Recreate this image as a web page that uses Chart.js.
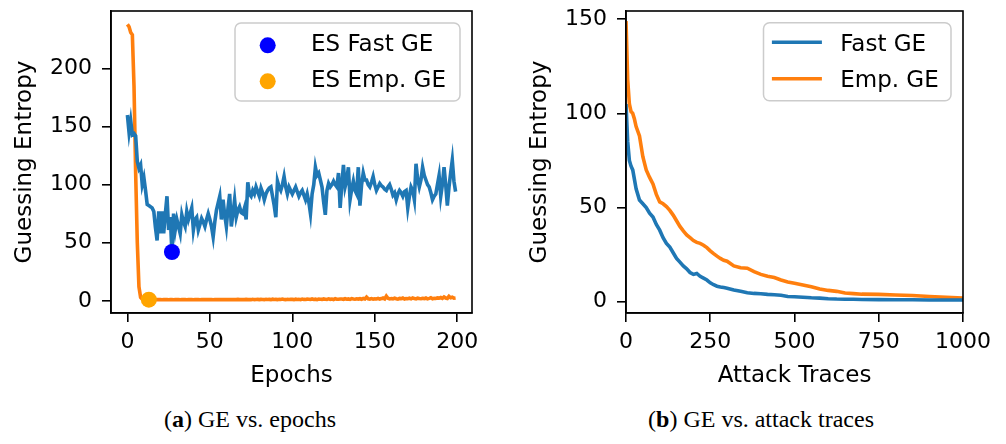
<!DOCTYPE html>
<html>
<head>
<meta charset="utf-8">
<title>GE vs. epochs / attack traces</title>
<script src="https://cdn.jsdelivr.net/npm/chart.js"></script>
<style>
  body { margin: 0; width: 1006px; height: 444px; background: #fff; position: relative; overflow: hidden; }
  canvas { position: absolute; top: 0; }
  #left-chart { left: 0; }
  #right-chart { left: 500px; }
  .caption { position: absolute; top: 406px; font-family: "Liberation Serif", serif; font-size: 24px; color: #000; white-space: nowrap; transform: translateX(-50%); }
</style>
</head>
<body>
<canvas id="left-chart" width="480" height="400"></canvas>
<canvas id="right-chart" width="506" height="400"></canvas>
<div class="caption" style="left:250px">(<b>a</b>) GE vs. epochs</div>
<div class="caption" style="left:761px">(<b>b</b>) GE vs. attack traces</div>
<script>
// ---- data (a): GE per epoch ----
const epochs = Array.from({length: 200}, (_, i) => i)
const fastGeEpochs = [
    160,145,155,143,144,142,120,114,117,100,
    106,95,83,82,81,80,77,63,52,77,
    58,77,58,75,90,61,72,42,75,61,
    70,64,58,74,68,64,77,70,75,80,
    61,70,72,61,66,71,68,64,70,75,
    70,64,55,68,78,84,90,70,87,74,
    64,80,92,64,75,87,72,78,81,76,
    75,80,70,102,92,90,95,92,98,94,
    90,97,93,87,92,95,97,98,90,82,
    72,103,98,95,100,107,98,92,98,95,
    92,95,98,94,90,93,95,91,87,92,
    85,75,92,100,115,108,110,104,98,85,
    74,95,101,98,100,103,100,98,110,80,
    100,117,98,104,115,87,96,103,95,92,
    115,82,100,110,104,104,100,98,102,107,
    100,95,98,101,99,98,96,95,98,100,
    96,91,93,87,92,95,93,90,94,95,
    80,90,98,95,87,118,105,98,104,115,
    108,104,100,98,93,87,90,92,100,108,
    90,100,115,100,82,98,110,121,103,94
]
const empGeEpochs = [
    238,236,231,229,185,110,50,12,3,1.5,
    1.2,1.0,1.0,1.0,0.9,1.0,1.0,0.9,1.0,1.0,
    1.0,0.9,1.0,1.0,1.0,0.9,1.0,1.0,0.9,1.0,
    1.0,1.0,0.9,1.0,1.0,1.0,0.9,1.0,1.0,1.0,
    0.9,1.0,1.0,1.0,0.9,1.0,1.0,1.0,1.1,1.0,
    1.0,1.0,0.9,1.0,1.0,1.1,1.0,1.0,1.0,1.0,
    1.1,1.0,1.0,1.0,1.1,1.0,1.0,1.2,1.0,1.0,
    1.1,1.0,1.2,1.0,1.1,1.0,1.3,1.0,1.1,1.2,
    1.0,1.2,1.1,1.0,1.3,1.1,1.2,1.0,1.4,1.1,
    1.2,1.0,1.3,1.1,1.5,1.2,1.0,1.3,1.1,1.2,
    1.2,1.0,1.4,1.1,1.3,1.0,1.5,1.2,1.1,1.4,
    1.3,1.1,1.6,1.2,1.4,1.0,1.5,1.3,1.2,1.6,
    1.4,1.2,1.7,1.3,1.5,1.1,1.8,1.4,1.3,1.6,
    1.5,1.3,1.8,1.4,1.6,1.2,1.9,1.5,1.4,1.7,
    1.5,1.8,1.3,2.0,1.6,3.2,1.7,1.5,1.9,1.4,
    1.8,1.6,2.1,1.5,1.9,2.4,1.7,4.0,2.2,1.6,
    2.0,1.7,2.3,1.8,1.5,2.1,1.9,2.4,1.6,2.0,
    1.8,2.2,1.7,2.5,1.9,1.6,2.3,2.0,1.8,2.2,
    1.9,2.4,1.7,2.1,2.6,1.8,2.2,2.0,2.5,2.3,
    2.8,2.1,3.3,2.4,2.0,3.8,2.6,3.1,2.2,2.4
]
const esFast = [27, 42]   // [epoch, GE]
const esEmp = [13, 1]
const leftXTicks = [0, 50, 100, 150, 200]
const leftYTicks = [0, 50, 100, 150, 200]

// ---- data (b): GE per number of attack traces ----
const traces = [0,5,10,15,20,25,30,40,50,60,70,80,90,100,110,120,130,140,150,160,170,180,190,200,
    210,220,230,240,250,260,270,280,290,300,320,340,360,380,400,420,440,460,480,500,
    525,550,575,600,625,650,675,700,750,800,850,900,950,1000]
const fastGeTraces = [105,85,75,72,70,65,60,54,52,50,47,45,41,38,34,31,29,26,23,21,19,17.5,15.5,14.5,
    15,13.5,12.5,11.5,10,9,8.2,7.8,7.5,7.2,6.2,5.5,4.8,4.4,4.2,3.9,3.7,3.4,2.8,2.6,
    2.4,2.1,1.9,1.6,1.4,1.3,1.3,1.2,1.1,1.0,1.0,0.9,0.9,0.9]
const empGeTraces = [149,118,105,101,100,97,93,88,77,70,66,62.5,57,53,52,50.5,48.5,46,43,40,37.6,35.5,34,32.5,
    31.5,31,30,28.7,27,25.5,24.2,23,22,21.5,19,18,17.8,16,14.5,13.5,12.8,11.5,10.5,9.8,
    8.9,8,6.8,6,5.5,4.6,4.3,4.0,3.9,3.6,3.3,2.8,2.3,1.9]
const rightXTicks = [0, 250, 500, 750, 1000]
const rightYTicks = [0, 50, 100, 150]

const BLUE = '#1f77b4'
const ORANGE = '#ff7f0e'
const FONT = 'DejaVu Sans'
const LINE_W = 3.6

function xy(xs, ys){
    return xs.map((x, i) => ({x: x, y: ys[i]}))
}

// frame on all four sides, like matplotlib spines
const frame = {
    id: 'frame',
    afterDatasetsDraw(chart){
        const {ctx, chartArea: a} = chart
        ctx.save()
        ctx.strokeStyle = '#000'
        ctx.lineWidth = 1.6
        ctx.strokeRect(a.left, a.top, a.right - a.left, a.bottom - a.top)
        ctx.restore()
    }
}

const legendBox = {
    id: 'legendBox',
    afterDraw(chart, args, opts){
        const {ctx, chartArea} = chart
        const items = chart.data.datasets.filter(d => d.inLegend)
        const x = chartArea.right - opts.offsetRight - opts.width
        const y = chartArea.top + opts.offsetTop
        ctx.save()
        ctx.beginPath()
        ctx.roundRect(x, y, opts.width, opts.height, 6)
        ctx.fillStyle = 'rgba(255,255,255,0.8)'
        ctx.fill()
        ctx.strokeStyle = '#cccccc'
        ctx.lineWidth = 1.5
        ctx.stroke()
        ctx.font = '23px "' + FONT + '"'
        ctx.textBaseline = 'alphabetic'
        items.forEach((d, i) => {
            const cy = y + opts.rows[i]
            if (opts.symbol === 'dot'){
                ctx.beginPath()
                ctx.arc(x + 32.7, cy, 8, 0, 2 * Math.PI)
                ctx.fillStyle = d.backgroundColor
                ctx.fill()
            } else {
                ctx.beginPath()
                ctx.moveTo(x + 8.4, cy)
                ctx.lineTo(x + 58.4, cy)
                ctx.strokeStyle = d.borderColor
                ctx.lineWidth = LINE_W
                ctx.stroke()
            }
            ctx.fillStyle = '#000'
            ctx.fillText(d.label, x + opts.textX, cy + opts.baseline)
        })
        ctx.restore()
    }
}

function axis(title, ticks, min, max, size, titlePad, labelPad, horizontal){
    return {
        type: 'linear',
        min: min,
        max: max,
        afterBuildTicks: s => { s.ticks = ticks.map(v => ({value: v})) },
        afterFit: s => {
            if (horizontal){ s.height = size; s.paddingLeft = 0; s.paddingRight = 0 }
            else { s.width = size; s.paddingTop = 0; s.paddingBottom = 0 }
        },
        border: {display: true, color: '#000', width: 1.6},
        grid: {drawOnChartArea: false, drawTicks: true, tickLength: 9, color: '#000', lineWidth: 1.6},
        ticks: {
            autoSkip: false, maxRotation: 0, color: '#000', padding: labelPad,
            font: {family: FONT, size: 22},
            callback: v => String(v)
        },
        title: {display: true, text: title, color: '#000', font: {family: FONT, size: 23}, padding: titlePad}
    }
}

function draw_left(){
    new Chart(document.getElementById('left-chart'), {
        type: 'line',
        data: {
            datasets: [
                {label: 'ES Fast GE', inLegend: true, data: [{x: esFast[0], y: esFast[1]}], showLine: false,
                 pointRadius: 8, pointBorderWidth: 0, backgroundColor: '#0000ff', borderColor: '#0000ff'},
                {label: 'ES Emp. GE', inLegend: true, data: [{x: esEmp[0], y: esEmp[1]}], showLine: false,
                 pointRadius: 8, pointBorderWidth: 0, backgroundColor: '#ffa500', borderColor: '#ffa500'},
                {label: 'Fast GE', data: xy(epochs, fastGeEpochs), borderColor: BLUE, borderWidth: LINE_W, pointRadius: 0},
                {label: 'Emp. GE', data: xy(epochs, empGeEpochs), borderColor: ORANGE, borderWidth: LINE_W, pointRadius: 0}
            ]
        },
        options: {
            responsive: false,
            animation: false,
            layout: {padding: {left: 0, top: 11, right: 7, bottom: 0}},
            scales: {
                x: axis('Epochs', leftXTicks, -9.95, 208.95, 87, {top: 4, bottom: 10}, 7, true),
                y: axis('Guessing Entropy', leftYTicks, -10.5, 249.5, 111, {top: 11, bottom: 0}, 10, false)
            },
            plugins: {
                legend: {display: false},
                tooltip: {enabled: false},
                legendBox: {width: 225, height: 78, offsetRight: 12, offsetTop: 12, symbol: 'dot',
                            rows: [22.3, 58.3], baseline: 6, textX: 76}
            }
        },
        plugins: [frame, legendBox]
    })
}

function draw_right(){
    new Chart(document.getElementById('right-chart'), {
        type: 'line',
        data: {
            datasets: [
                {label: 'Fast GE', inLegend: true, data: xy(traces, fastGeTraces), borderColor: BLUE, borderWidth: LINE_W, pointRadius: 0},
                {label: 'Emp. GE', inLegend: true, data: xy(traces, empGeTraces), borderColor: ORANGE, borderWidth: LINE_W, pointRadius: 0}
            ]
        },
        options: {
            responsive: false,
            animation: false,
            layout: {padding: {left: 0, top: 11, right: 43, bottom: 0}},
            scales: {
                x: axis('Attack Traces', rightXTicks, 0, 1000, 87, {top: 4, bottom: 10}, 7, true),
                y: axis('Guessing Entropy', rightYTicks, -6, 154.4, 126, {top: 26, bottom: 0}, 10, false)
            },
            plugins: {
                legend: {display: false},
                tooltip: {enabled: false},
                legendBox: {width: 187.5, height: 78, offsetRight: 12, offsetTop: 11.7, symbol: 'line',
                            rows: [19.6, 56], baseline: 8.4, textX: 76.7}
            }
        },
        plugins: [frame, legendBox]
    })
}

draw_left()
draw_right()
</script>
</body>
</html>
